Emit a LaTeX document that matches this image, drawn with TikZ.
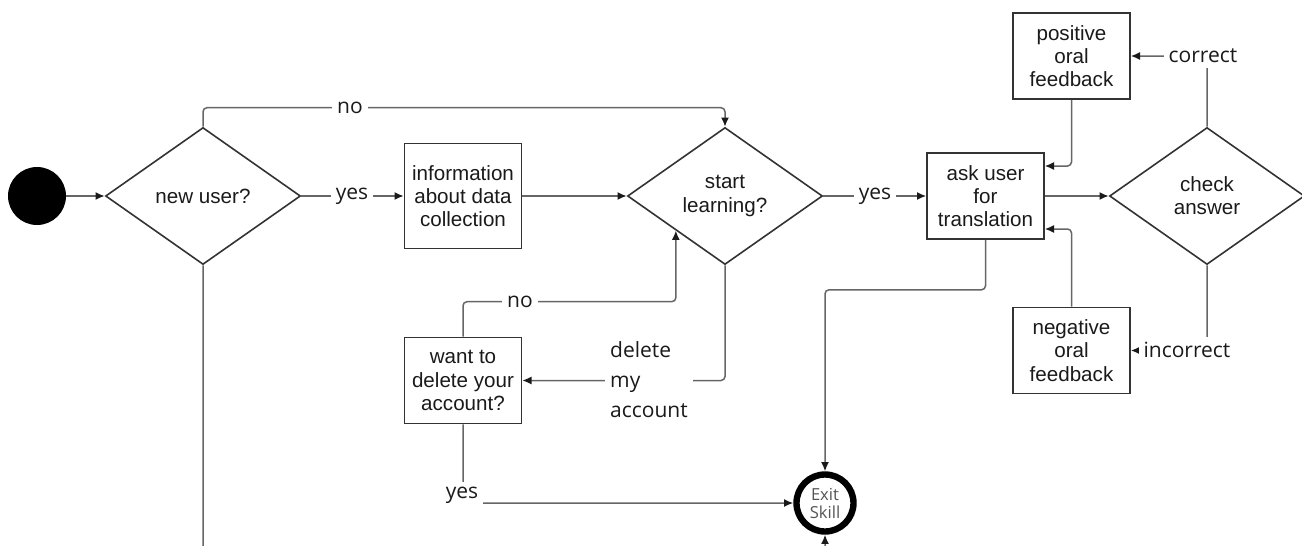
\documentclass[tikz,border=0pt]{standalone}
\usepackage{fontspec}
\setmainfont{Liberation Sans}
\newfontfamily\labfont{Open Sans}
\usetikzlibrary{shapes.geometric,arrows.meta}
\definecolor{boxc}{HTML}{333333}
\definecolor{linec}{HTML}{666666}
\definecolor{tipc}{HTML}{1A1A1A}
\definecolor{txt}{HTML}{1A1A1A}
\definecolor{exitc}{HTML}{555555}
\begin{document}
\begin{tikzpicture}[x=0.5pt,y=-0.5pt,
  boxstyle/.style={draw=boxc, line width=0.8pt, minimum width=58.5pt, minimum height=43pt, align=center, inner sep=1pt, font=\fontsize{10.3}{11.6}\selectfont, text=txt},
  decstyle/.style={diamond, draw=boxc, line width=0.8pt, minimum width=97.5pt, minimum height=68.5pt, align=center, inner sep=0pt, font=\fontsize{10.3}{11.6}\selectfont, text=txt},
  conn/.style={draw=linec, line width=0.75pt, -{Latex[length=4.6pt,width=4pt,color=tipc]}, rounded corners=2pt},
  lab/.style={fill=white, font=\labfont\fontsize{10.5}{15}\selectfont, text=txt, inner sep=2.5pt}
]
\useasboundingbox (0,0) rectangle (1302,546);
\clip (0,0) rectangle (1302,546);

% nodes
\node[circle, fill=black, minimum size=29pt, inner sep=0pt] (start) at (37,196) {};
\node[decstyle] (nu) at (203,196) {new user?};
\node[boxstyle, minimum height=52.5pt] (info) at (463,196) {information\\about data\\collection};
\node[decstyle] (sl) at (725,196) {start\\learning?};
\node[boxstyle] (ask) at (985.5,196) {ask user\\for\\translation};
\node[decstyle] (ck) at (1207,196) {check\\answer};
\node[boxstyle] (pos) at (1071.5,56) {positive\\oral\\feedback};
\node[boxstyle] (neg) at (1071.5,350.5) {negative\\oral\\feedback};
\node[boxstyle] (del) at (463,380.5) {want to\\delete your\\account?};
\node[circle, draw=black, line width=3.2pt, minimum size=28.5pt, inner sep=0pt, align=center,
      font=\labfont\fontsize{8.3}{9}\selectfont, text=exitc] (exit) at (825,503) {Exit\\Skill};

% connectors
\draw[conn] (start.east) -- (nu.west);
\draw[conn] (nu.east) -- (info.west);
\draw[conn] (info.east) -- (sl.west);
\draw[conn] (nu.north) -- ++(0,-19) -| (sl.north);
\draw[conn] (sl.east) -- (ask.west);
\draw[conn] (ask.east) -- (ck.west);
\draw[conn] (ck.north) |- (pos.east);
\draw[conn] (ck.south) |- (neg.east);
\draw[conn] (pos.south) |- ([yshift=15pt]ask.east);
\draw[conn] (neg.north) |- ([yshift=-16.5pt]ask.east);
\draw[conn] (ask.south) -- ++(0,50) -| (exit.north);
\draw[conn] (sl.south) |- (del.east);
\draw[conn] (del.north) -- ++(0,-35) -| (sl.south west);
\draw[conn] (del.south) |- (exit.west);
\draw[conn] (nu.south) -- ++(0,320) -| (exit.south);

% labels
\node[lab] (lno1) at (350,108) {no};
\node[lab] (lyes1) at (352,196) {yes};
\node[lab] (lyes2) at (875,196) {yes};
\node[lab] (lcor) at (1203,56) {correct};
\node[lab] (linc) at (1187,350) {incorrect};
\node[lab, align=left] (ldel) at (649,380) {delete\\my\\account};
\node[lab] (lno2) at (520,302) {no};
\node[lab] (lyes3) at (462,495) {yes};
\end{tikzpicture}
\end{document}
